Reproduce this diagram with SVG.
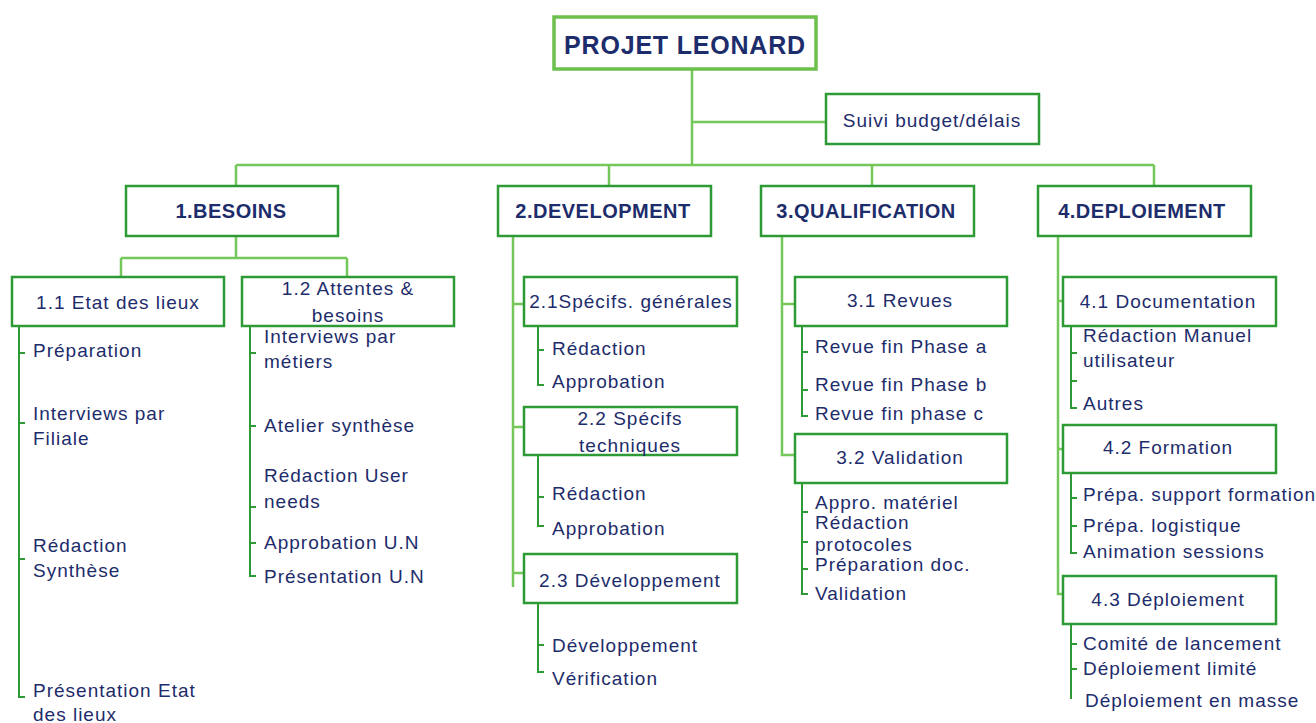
<svg xmlns="http://www.w3.org/2000/svg" width="1316" height="723" viewBox="0 0 1316 723">
<style>
.t{font-family:"Liberation Sans",Arial,sans-serif;font-size:19px;letter-spacing:1px;fill:#1d2c6b}
.c{text-anchor:middle}
.h{font-family:"Liberation Sans",Arial,sans-serif;font-size:20px;font-weight:bold;letter-spacing:0.5px;fill:#1d2c6b;text-anchor:middle}
.box{fill:#fff;stroke:#2e9a35;stroke-width:2.5}
.main{fill:none;stroke:#74c85a;stroke-width:2.5}
.sub{fill:none;stroke:#2e9a35;stroke-width:2}
</style>
<rect width="1316" height="723" fill="#fff"/>
<g id="connectors">
<path class="main" d="M692 69V165M692 122H826M236 165H1154M236 165V186M609 165V186M872 165V186M1154 165V186"/>
<path class="main" d="M236 236V258M121 258H347M121 258V277M347 258V277"/>
<path class="main" d="M513 236V587M513 304H524M513 427H524M513 573H524"/>
<path class="main" d="M782 236V455H795M782 304H795"/>
<path class="main" d="M1058 236V594H1063M1058 301H1063M1058 449H1063"/>
<path class="sub" d="M19 326V697H25M19 353H25M19 423H25M19 559H25"/>
<path class="sub" d="M250 326V576H256M250 353H256M250 426H256M250 507H256M250 543H256"/>
<path class="sub" d="M538 326V385H544M538 350H544"/>
<path class="sub" d="M538 455V526H544M538 497H544"/>
<path class="sub" d="M538 603V672H544M538 645H544"/>
<path class="sub" d="M802 326V416H808M802 352H808M802 390H808"/>
<path class="sub" d="M802 483V594H808M802 512H808M802 542H808M802 569H808"/>
<path class="sub" d="M1071 326V408H1077M1071 353H1077M1071 381H1077"/>
<path class="sub" d="M1071 473V553H1077M1071 498H1077M1071 526H1077"/>
<path class="sub" d="M1071 624V699M1071 644H1077M1071 669H1077"/>
</g>
<g id="root">
<rect x="554" y="17" width="262" height="52" fill="#fff" stroke="#6cc04c" stroke-width="3.5"/>
<text x="685" y="54" style="font-family:'Liberation Sans',Arial,sans-serif;font-size:25px;font-weight:bold;letter-spacing:0.8px;fill:#1d2c6b;text-anchor:middle">PROJET LEONARD</text>
</g>
<g id="suivi">
<rect class="box" x="826" y="94" width="213" height="50"/>
<text class="t c" x="932" y="127">Suivi budget/délais</text>
</g>
<g id="n1">
<rect class="box" x="126" y="186" width="212" height="50"/>
<text class="h" x="231" y="218">1.BESOINS</text>
</g>
<g id="n2">
<rect class="box" x="498" y="186" width="213" height="50"/>
<text class="h" x="603" y="218">2.DEVELOPMENT</text>
</g>
<g id="n3">
<rect class="box" x="761" y="186" width="213" height="50"/>
<text class="h" x="866" y="218">3.QUALIFICATION</text>
</g>
<g id="n4">
<rect class="box" x="1038" y="186" width="213" height="50"/>
<text class="h" x="1142" y="218">4.DEPLOIEMENT</text>
</g>
<g id="n11">
<rect class="box" x="12" y="277" width="212" height="49"/>
<text class="t c" x="118" y="309">1.1 Etat des lieux</text>
<text class="t" x="33" y="357">Préparation</text>
<text class="t" x="33" y="420">Interviews par</text>
<text class="t" x="33" y="445">Filiale</text>
<text class="t" x="33" y="552">Rédaction</text>
<text class="t" x="33" y="577">Synthèse</text>
<text class="t" x="33" y="697">Présentation Etat</text>
<text class="t" x="33" y="721">des lieux</text>
</g>
<g id="n12">
<rect class="box" x="242" y="277" width="212" height="49"/>
<text class="t c" x="348" y="295">1.2 Attentes &amp;</text>
<text class="t c" x="348" y="322">besoins</text>
<text class="t" x="264" y="343">Interviews par</text>
<text class="t" x="264" y="368">métiers</text>
<text class="t" x="264" y="432">Atelier synthèse</text>
<text class="t" x="264" y="482">Rédaction User</text>
<text class="t" x="264" y="508">needs</text>
<text class="t" x="264" y="549">Approbation U.N</text>
<text class="t" x="264" y="583">Présentation U.N</text>
</g>
<g id="n21">
<rect class="box" x="524" y="277" width="213" height="49"/>
<text class="t c" x="631" y="308">2.1Spécifs. générales</text>
<text class="t" x="552" y="355">Rédaction</text>
<text class="t" x="552" y="388">Approbation</text>
</g>
<g id="n22">
<rect class="box" x="524" y="407" width="213" height="48"/>
<text class="t c" x="630" y="425">2.2 Spécifs</text>
<text class="t c" x="630" y="452">techniques</text>
<text class="t" x="552" y="500">Rédaction</text>
<text class="t" x="552" y="535">Approbation</text>
</g>
<g id="n23">
<rect class="box" x="524" y="554" width="213" height="49"/>
<text class="t c" x="630" y="587">2.3 Développement</text>
<text class="t" x="552" y="652">Développement</text>
<text class="t" x="552" y="685">Vérification</text>
</g>
<g id="n31">
<rect class="box" x="795" y="277" width="212" height="49"/>
<text class="t c" x="900" y="307">3.1 Revues</text>
<text class="t" x="815" y="353">Revue fin Phase a</text>
<text class="t" x="815" y="391">Revue fin Phase b</text>
<text class="t" x="815" y="420">Revue fin phase c</text>
</g>
<g id="n32">
<rect class="box" x="795" y="434" width="212" height="49"/>
<text class="t c" x="900" y="464">3.2 Validation</text>
<text class="t" x="815" y="509">Appro. matériel</text>
<text class="t" x="815" y="529">Rédaction</text>
<text class="t" x="815" y="551">protocoles</text>
<text class="t" x="815" y="571">Préparation doc.</text>
<text class="t" x="815" y="600">Validation</text>
</g>
<g id="n41">
<rect class="box" x="1063" y="277" width="213" height="49"/>
<text class="t c" x="1168" y="308">4.1 Documentation</text>
<text class="t" x="1083" y="342">Rédaction Manuel</text>
<text class="t" x="1083" y="367">utilisateur</text>
<text class="t" x="1083" y="410">Autres</text>
</g>
<g id="n42">
<rect class="box" x="1063" y="425" width="213" height="48"/>
<text class="t c" x="1168" y="454">4.2 Formation</text>
<text class="t" x="1083" y="501">Prépa. support formation</text>
<text class="t" x="1083" y="532">Prépa. logistique</text>
<text class="t" x="1083" y="558">Animation sessions</text>
</g>
<g id="n43">
<rect class="box" x="1063" y="576" width="213" height="48"/>
<text class="t c" x="1168" y="606">4.3 Déploiement</text>
<text class="t" x="1083" y="650">Comité de lancement</text>
<text class="t" x="1083" y="675">Déploiement limité</text>
<text class="t" x="1085" y="707">Déploiement en masse</text>
</g>
</svg>
